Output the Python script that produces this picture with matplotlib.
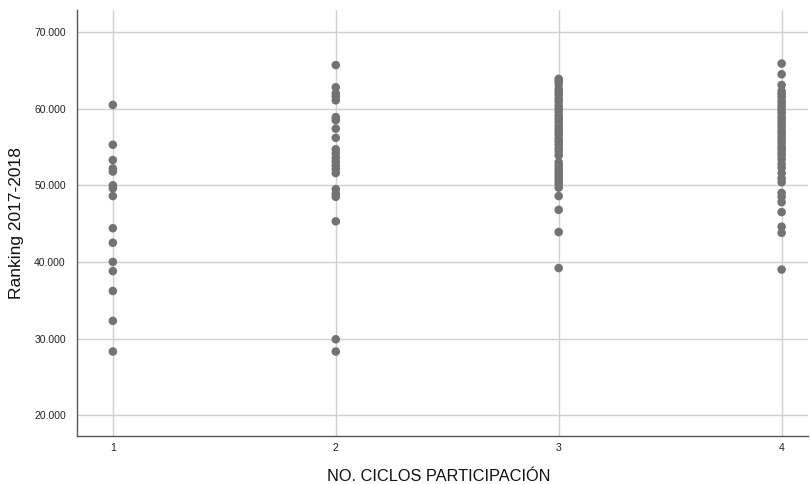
import matplotlib
matplotlib.use("Agg")
import matplotlib.pyplot as plt

plt.rcParams['font.family'] = ['Liberation Sans', 'DejaVu Sans']

ciclos_1 = [60.5, 55.3, 53.3, 52.2, 51.8, 50.0, 49.6, 48.6, 44.4, 42.5, 40.0,
            38.8, 36.2, 32.3, 28.3]
ciclos_2 = [65.7, 62.8, 62.0, 61.6, 61.1, 58.9, 58.5, 57.4, 56.2, 54.7, 54.2,
            53.6, 53.1, 52.6, 52.1, 51.6, 49.5, 48.9, 48.5, 45.3, 29.9, 28.3]
ciclos_3 = [63.9, 63.6, 63.2, 62.6, 62.2, 61.8, 61.3, 60.9, 60.4, 60.0, 59.6,
            59.1, 58.7, 58.3, 57.8, 57.4, 57.0, 56.6, 56.1, 55.7, 55.3, 54.8,
            54.4, 53.9, 53.0, 52.6, 52.2, 51.8, 51.4, 51.0, 50.6, 50.2, 49.7,
            48.6, 46.8, 43.9, 39.2]
ciclos_4 = [65.9, 64.5, 63.1, 62.3, 61.9, 61.5, 61.0, 60.6, 60.2, 59.8, 59.4,
            58.9, 58.5, 58.1, 57.7, 57.2, 56.8, 56.4, 56.0, 55.6, 55.1, 54.7,
            54.3, 53.9, 53.4, 52.8, 52.3, 51.6, 50.9, 50.4, 49.0, 48.5, 47.8,
            46.5, 44.6, 43.8, 39.0]

groups = [1, 2, 3, 4]
series = [ciclos_1, ciclos_2, ciclos_3, ciclos_4]
y_ticks = [20, 30, 40, 50, 60, 70]

fig = plt.figure(figsize=(8.1, 4.84), dpi=100)
ax = fig.add_axes([0.095, 0.099, 0.903, 0.880])

for g, vals in zip(groups, series):
    ax.scatter([g] * len(vals), vals, s=38, color='#737373', edgecolors='none',
               zorder=3)

ax.set_xlim(0.839, 4.12)
ax.set_ylim(17.26, 72.87)
ax.set_xticks(groups)
ax.set_xticklabels([str(g) for g in groups])
ax.set_yticks(y_ticks)
ax.set_yticklabels([f"{v:.3f}" for v in y_ticks])
ax.tick_params(length=0, labelsize=7.5, colors='#222222')
ax.tick_params(axis='x', pad=5)
ax.tick_params(axis='y', pad=8)

ax.grid(True, color='#d0d0d0', linewidth=1.0, zorder=0)
ax.set_axisbelow(True)
for side in ('top', 'right'):
    ax.spines[side].set_visible(False)
for side in ('left', 'bottom'):
    ax.spines[side].set_color('#555555')
    ax.spines[side].set_linewidth(1.0)

ax.set_ylabel('Ranking 2017-2018', fontsize=12.5, color='#111111')
ax.yaxis.set_label_coords(-0.082, 0.5)
ax.yaxis.label.set_va('center')
ax.set_xlabel('NO. CICLOS PARTICIPACIÓN', fontsize=11.8, color='#111111')
ax.xaxis.set_label_coords(0.494, -0.094)
ax.xaxis.label.set_va('center')

fig.savefig('out.png', dpi=100)
